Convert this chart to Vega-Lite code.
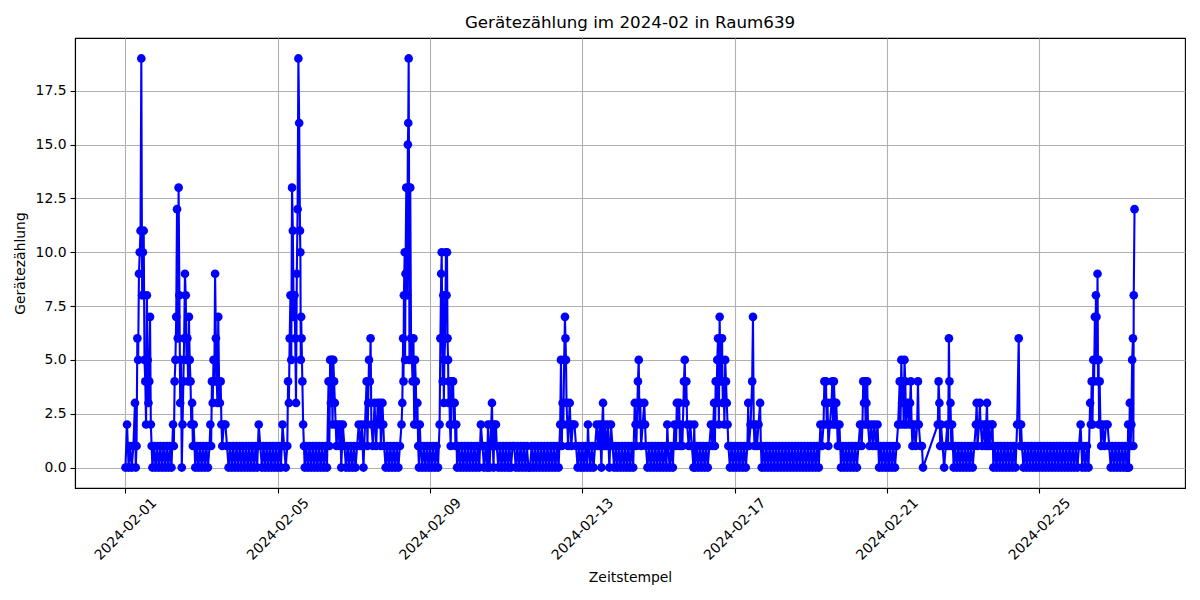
{
"$schema":"https://vega.github.io/schema/vega-lite/v6.json",
"width":1110,"height":450,
"autosize":{"type":"none"},
"padding":{"left":75,"top":38,"right":15,"bottom":112},
"background":"white",
"title":{"text":"Gerätezählung im 2024-02 in Raum639","font":"DejaVu Sans","fontSize":16.7,"fontWeight":"normal","color":"black","anchor":"middle","offset":6},
"config":{
 "view":{"stroke":"black","strokeWidth":1.1},
 "axis":{"labelFont":"DejaVu Sans","labelFontSize":13.9,"labelColor":"black","titleFont":"DejaVu Sans","titleFontSize":13.9,"titleFontWeight":"normal","titleColor":"black","domainColor":"black","domainWidth":1.1,"tickColor":"black","tickSize":5,"tickWidth":1.1,"gridColor":"#b0b0b0","gridWidth":1.1,"gridOpacity":1}
},
"data":{"values":[
{"t":"2024-02-01 00:00","v":0},{"t":"2024-02-01 01:00","v":2},{"t":"2024-02-01 02:00","v":0},{"t":"2024-02-01 03:00","v":1},{"t":"2024-02-01 04:00","v":0},{"t":"2024-02-01 05:00","v":1},{"t":"2024-02-01 06:00","v":3},{"t":"2024-02-01 06:30","v":0},{"t":"2024-02-01 07:00","v":1},{"t":"2024-02-01 07:30","v":6},{"t":"2024-02-01 08:00","v":5},{"t":"2024-02-01 08:30","v":9},{"t":"2024-02-01 09:00","v":10},{"t":"2024-02-01 09:30","v":11},{"t":"2024-02-01 10:00","v":19},{"t":"2024-02-01 10:30","v":8},{"t":"2024-02-01 11:00","v":10},{"t":"2024-02-01 11:30","v":11},{"t":"2024-02-01 12:00","v":5},{"t":"2024-02-01 12:30","v":4},{"t":"2024-02-01 13:00","v":2},{"t":"2024-02-01 13:30","v":8},{"t":"2024-02-01 14:00","v":5},{"t":"2024-02-01 14:30","v":3},{"t":"2024-02-01 15:00","v":4},{"t":"2024-02-01 15:30","v":7},{"t":"2024-02-01 16:00","v":2},{"t":"2024-02-01 16:30","v":1},{"t":"2024-02-01 17:00","v":0},{"t":"2024-02-01 18:00","v":1},{"t":"2024-02-01 19:00","v":0},{"t":"2024-02-01 20:00","v":1},{"t":"2024-02-01 21:00","v":0},{"t":"2024-02-01 22:00","v":1},{"t":"2024-02-01 23:00","v":0},
{"t":"2024-02-02 00:00","v":1},{"t":"2024-02-02 01:00","v":0},{"t":"2024-02-02 02:00","v":1},{"t":"2024-02-02 03:00","v":0},{"t":"2024-02-02 04:00","v":1},{"t":"2024-02-02 05:00","v":0},{"t":"2024-02-02 06:00","v":2},{"t":"2024-02-02 06:30","v":1},{"t":"2024-02-02 07:00","v":4},{"t":"2024-02-02 07:30","v":5},{"t":"2024-02-02 08:00","v":7},{"t":"2024-02-02 08:30","v":12},{"t":"2024-02-02 09:00","v":6},{"t":"2024-02-02 09:30","v":13},{"t":"2024-02-02 10:00","v":8},{"t":"2024-02-02 10:30","v":3},{"t":"2024-02-02 11:00","v":5},{"t":"2024-02-02 11:30","v":0},{"t":"2024-02-02 12:00","v":2},{"t":"2024-02-02 12:30","v":4},{"t":"2024-02-02 13:00","v":6},{"t":"2024-02-02 13:30","v":9},{"t":"2024-02-02 14:00","v":8},{"t":"2024-02-02 14:30","v":5},{"t":"2024-02-02 15:00","v":6},{"t":"2024-02-02 15:30","v":4},{"t":"2024-02-02 16:00","v":7},{"t":"2024-02-02 16:30","v":5},{"t":"2024-02-02 17:00","v":4},{"t":"2024-02-02 17:30","v":2},{"t":"2024-02-02 18:00","v":3},{"t":"2024-02-02 18:30","v":1},{"t":"2024-02-02 19:00","v":2},{"t":"2024-02-02 20:00","v":0},{"t":"2024-02-02 21:00","v":1},{"t":"2024-02-02 22:00","v":0},{"t":"2024-02-02 23:00","v":1},
{"t":"2024-02-03 00:00","v":0},{"t":"2024-02-03 01:00","v":1},{"t":"2024-02-03 02:00","v":0},{"t":"2024-02-03 03:00","v":1},{"t":"2024-02-03 04:00","v":0},{"t":"2024-02-03 05:00","v":1},{"t":"2024-02-03 05:30","v":2},{"t":"2024-02-03 06:00","v":1},{"t":"2024-02-03 06:30","v":4},{"t":"2024-02-03 07:00","v":3},{"t":"2024-02-03 07:30","v":5},{"t":"2024-02-03 08:00","v":4},{"t":"2024-02-03 08:30","v":9},{"t":"2024-02-03 09:00","v":6},{"t":"2024-02-03 09:30","v":4},{"t":"2024-02-03 10:00","v":3},{"t":"2024-02-03 10:30","v":7},{"t":"2024-02-03 11:00","v":4},{"t":"2024-02-03 11:30","v":3},{"t":"2024-02-03 12:00","v":4},{"t":"2024-02-03 12:30","v":2},{"t":"2024-02-03 13:00","v":1},{"t":"2024-02-03 14:00","v":2},{"t":"2024-02-03 15:00","v":2},{"t":"2024-02-03 16:00","v":1},{"t":"2024-02-03 17:00","v":0},{"t":"2024-02-03 18:00","v":1},{"t":"2024-02-03 19:00","v":0},{"t":"2024-02-03 20:00","v":1},{"t":"2024-02-03 21:00","v":0},{"t":"2024-02-03 22:00","v":1},{"t":"2024-02-03 23:00","v":0},
{"t":"2024-02-04 00:00","v":1},{"t":"2024-02-04 01:00","v":0},{"t":"2024-02-04 02:00","v":1},{"t":"2024-02-04 03:00","v":0},{"t":"2024-02-04 04:00","v":1},{"t":"2024-02-04 05:00","v":0},{"t":"2024-02-04 06:00","v":1},{"t":"2024-02-04 07:00","v":0},{"t":"2024-02-04 08:00","v":1},{"t":"2024-02-04 09:00","v":0},{"t":"2024-02-04 10:00","v":1},{"t":"2024-02-04 11:00","v":0},{"t":"2024-02-04 12:00","v":2},{"t":"2024-02-04 13:00","v":1},{"t":"2024-02-04 14:00","v":0},{"t":"2024-02-04 15:00","v":1},{"t":"2024-02-04 16:00","v":0},{"t":"2024-02-04 17:00","v":1},{"t":"2024-02-04 18:00","v":0},{"t":"2024-02-04 19:00","v":1},{"t":"2024-02-04 20:00","v":0},{"t":"2024-02-04 21:00","v":1},{"t":"2024-02-04 22:00","v":0},{"t":"2024-02-04 23:00","v":1},
{"t":"2024-02-05 00:00","v":0},{"t":"2024-02-05 01:00","v":1},{"t":"2024-02-05 02:00","v":0},{"t":"2024-02-05 03:00","v":2},{"t":"2024-02-05 04:00","v":1},{"t":"2024-02-05 05:00","v":0},{"t":"2024-02-05 06:00","v":1},{"t":"2024-02-05 06:30","v":4},{"t":"2024-02-05 07:00","v":3},{"t":"2024-02-05 07:30","v":6},{"t":"2024-02-05 08:00","v":8},{"t":"2024-02-05 08:30","v":5},{"t":"2024-02-05 09:00","v":13},{"t":"2024-02-05 09:30","v":11},{"t":"2024-02-05 10:00","v":7},{"t":"2024-02-05 10:30","v":8},{"t":"2024-02-05 11:00","v":6},{"t":"2024-02-05 11:30","v":3},{"t":"2024-02-05 12:00","v":9},{"t":"2024-02-05 12:30","v":12},{"t":"2024-02-05 13:00","v":19},{"t":"2024-02-05 13:30","v":16},{"t":"2024-02-05 14:00","v":11},{"t":"2024-02-05 14:15","v":10},{"t":"2024-02-05 14:30","v":5},{"t":"2024-02-05 14:45","v":7},{"t":"2024-02-05 15:00","v":6},{"t":"2024-02-05 15:30","v":4},{"t":"2024-02-05 16:00","v":2},{"t":"2024-02-05 16:30","v":1},{"t":"2024-02-05 17:00","v":0},{"t":"2024-02-05 18:00","v":1},{"t":"2024-02-05 19:00","v":0},{"t":"2024-02-05 20:00","v":1},{"t":"2024-02-05 21:00","v":0},{"t":"2024-02-05 22:00","v":1},{"t":"2024-02-05 23:00","v":0},
{"t":"2024-02-06 00:00","v":1},{"t":"2024-02-06 01:00","v":0},{"t":"2024-02-06 02:00","v":1},{"t":"2024-02-06 03:00","v":0},{"t":"2024-02-06 04:00","v":1},{"t":"2024-02-06 05:00","v":0},{"t":"2024-02-06 06:00","v":1},{"t":"2024-02-06 07:00","v":0},{"t":"2024-02-06 08:00","v":4},{"t":"2024-02-06 08:30","v":1},{"t":"2024-02-06 09:00","v":5},{"t":"2024-02-06 09:30","v":3},{"t":"2024-02-06 10:00","v":5},{"t":"2024-02-06 10:30","v":2},{"t":"2024-02-06 11:00","v":5},{"t":"2024-02-06 11:30","v":4},{"t":"2024-02-06 12:00","v":3},{"t":"2024-02-06 12:30","v":2},{"t":"2024-02-06 13:00","v":1},{"t":"2024-02-06 14:00","v":2},{"t":"2024-02-06 15:00","v":1},{"t":"2024-02-06 15:30","v":2},{"t":"2024-02-06 16:00","v":0},{"t":"2024-02-06 17:00","v":2},{"t":"2024-02-06 18:00","v":1},{"t":"2024-02-06 19:00","v":0},{"t":"2024-02-06 20:00","v":1},{"t":"2024-02-06 21:00","v":0},{"t":"2024-02-06 22:00","v":1},{"t":"2024-02-06 23:00","v":0},
{"t":"2024-02-07 00:00","v":1},{"t":"2024-02-07 01:00","v":0},{"t":"2024-02-07 02:00","v":1},{"t":"2024-02-07 03:00","v":2},{"t":"2024-02-07 04:00","v":1},{"t":"2024-02-07 05:00","v":2},{"t":"2024-02-07 06:00","v":0},{"t":"2024-02-07 07:00","v":2},{"t":"2024-02-07 08:00","v":4},{"t":"2024-02-07 08:30","v":1},{"t":"2024-02-07 09:00","v":3},{"t":"2024-02-07 09:30","v":5},{"t":"2024-02-07 10:00","v":4},{"t":"2024-02-07 10:30","v":6},{"t":"2024-02-07 11:00","v":2},{"t":"2024-02-07 12:00","v":1},{"t":"2024-02-07 13:00","v":3},{"t":"2024-02-07 14:00","v":1},{"t":"2024-02-07 15:00","v":3},{"t":"2024-02-07 16:00","v":2},{"t":"2024-02-07 16:30","v":3},{"t":"2024-02-07 17:00","v":1},{"t":"2024-02-07 18:00","v":3},{"t":"2024-02-07 18:30","v":2},{"t":"2024-02-07 19:00","v":1},{"t":"2024-02-07 20:00","v":0},{"t":"2024-02-07 21:00","v":1},{"t":"2024-02-07 22:00","v":0},{"t":"2024-02-07 23:00","v":1},
{"t":"2024-02-08 00:00","v":0},{"t":"2024-02-08 01:00","v":1},{"t":"2024-02-08 02:00","v":0},{"t":"2024-02-08 03:00","v":1},{"t":"2024-02-08 04:00","v":0},{"t":"2024-02-08 05:00","v":1},{"t":"2024-02-08 06:00","v":2},{"t":"2024-02-08 06:30","v":3},{"t":"2024-02-08 07:00","v":6},{"t":"2024-02-08 07:15","v":4},{"t":"2024-02-08 07:30","v":8},{"t":"2024-02-08 08:00","v":10},{"t":"2024-02-08 08:15","v":5},{"t":"2024-02-08 08:30","v":9},{"t":"2024-02-08 09:00","v":13},{"t":"2024-02-08 09:30","v":8},{"t":"2024-02-08 10:00","v":15},{"t":"2024-02-08 10:15","v":16},{"t":"2024-02-08 10:30","v":19},{"t":"2024-02-08 10:45","v":13},{"t":"2024-02-08 11:00","v":5},{"t":"2024-02-08 11:30","v":13},{"t":"2024-02-08 12:00","v":6},{"t":"2024-02-08 12:30","v":5},{"t":"2024-02-08 13:00","v":4},{"t":"2024-02-08 13:30","v":6},{"t":"2024-02-08 14:00","v":2},{"t":"2024-02-08 14:30","v":5},{"t":"2024-02-08 15:00","v":4},{"t":"2024-02-08 15:30","v":2},{"t":"2024-02-08 16:00","v":3},{"t":"2024-02-08 16:30","v":1},{"t":"2024-02-08 17:00","v":0},{"t":"2024-02-08 17:30","v":2},{"t":"2024-02-08 18:00","v":1},{"t":"2024-02-08 19:00","v":0},{"t":"2024-02-08 20:00","v":1},{"t":"2024-02-08 21:00","v":0},{"t":"2024-02-08 22:00","v":1},{"t":"2024-02-08 23:00","v":0},
{"t":"2024-02-09 00:00","v":1},{"t":"2024-02-09 01:00","v":0},{"t":"2024-02-09 02:00","v":1},{"t":"2024-02-09 03:00","v":0},{"t":"2024-02-09 04:00","v":1},{"t":"2024-02-09 05:00","v":0},{"t":"2024-02-09 06:00","v":2},{"t":"2024-02-09 06:30","v":6},{"t":"2024-02-09 07:00","v":9},{"t":"2024-02-09 07:20","v":10},{"t":"2024-02-09 07:40","v":6},{"t":"2024-02-09 08:00","v":4},{"t":"2024-02-09 08:20","v":8},{"t":"2024-02-09 08:40","v":3},{"t":"2024-02-09 09:00","v":5},{"t":"2024-02-09 09:30","v":6},{"t":"2024-02-09 10:00","v":10},{"t":"2024-02-09 10:20","v":8},{"t":"2024-02-09 10:40","v":10},{"t":"2024-02-09 11:00","v":6},{"t":"2024-02-09 11:20","v":5},{"t":"2024-02-09 11:40","v":3},{"t":"2024-02-09 12:00","v":4},{"t":"2024-02-09 12:30","v":2},{"t":"2024-02-09 13:00","v":1},{"t":"2024-02-09 13:30","v":4},{"t":"2024-02-09 14:00","v":3},{"t":"2024-02-09 14:30","v":4},{"t":"2024-02-09 15:00","v":2},{"t":"2024-02-09 15:30","v":3},{"t":"2024-02-09 16:00","v":1},{"t":"2024-02-09 16:30","v":2},{"t":"2024-02-09 17:00","v":0},{"t":"2024-02-09 18:00","v":1},{"t":"2024-02-09 19:00","v":0},{"t":"2024-02-09 20:00","v":1},{"t":"2024-02-09 21:00","v":0},{"t":"2024-02-09 22:00","v":1},{"t":"2024-02-09 23:00","v":0},
{"t":"2024-02-10 00:00","v":1},{"t":"2024-02-10 01:00","v":0},{"t":"2024-02-10 02:00","v":1},{"t":"2024-02-10 03:00","v":0},{"t":"2024-02-10 04:00","v":1},{"t":"2024-02-10 05:00","v":0},{"t":"2024-02-10 06:00","v":1},{"t":"2024-02-10 07:00","v":0},{"t":"2024-02-10 08:00","v":2},{"t":"2024-02-10 09:00","v":1},{"t":"2024-02-10 10:00","v":0},{"t":"2024-02-10 11:00","v":1},{"t":"2024-02-10 12:00","v":0},{"t":"2024-02-10 12:30","v":2},{"t":"2024-02-10 13:00","v":1},{"t":"2024-02-10 13:30","v":0},{"t":"2024-02-10 14:00","v":1},{"t":"2024-02-10 14:30","v":2},{"t":"2024-02-10 15:00","v":3},{"t":"2024-02-10 15:30","v":1},{"t":"2024-02-10 16:00","v":0},{"t":"2024-02-10 16:30","v":2},{"t":"2024-02-10 17:00","v":1},{"t":"2024-02-10 17:30","v":2},{"t":"2024-02-10 18:00","v":1},{"t":"2024-02-10 19:00","v":0},{"t":"2024-02-10 20:00","v":1},{"t":"2024-02-10 21:00","v":0},{"t":"2024-02-10 22:00","v":1},{"t":"2024-02-10 23:00","v":0},
{"t":"2024-02-11 00:00","v":1},{"t":"2024-02-11 01:00","v":0},{"t":"2024-02-11 02:00","v":1},{"t":"2024-02-11 03:00","v":0},{"t":"2024-02-11 04:00","v":1},{"t":"2024-02-11 05:00","v":1},{"t":"2024-02-11 06:00","v":0},{"t":"2024-02-11 07:00","v":1},{"t":"2024-02-11 08:00","v":0},{"t":"2024-02-11 09:00","v":1},{"t":"2024-02-11 10:00","v":0},{"t":"2024-02-11 11:00","v":1},{"t":"2024-02-11 12:00","v":0},{"t":"2024-02-11 13:00","v":1},{"t":"2024-02-11 14:00","v":0},{"t":"2024-02-11 15:00","v":0},{"t":"2024-02-11 16:00","v":1},{"t":"2024-02-11 17:00","v":0},{"t":"2024-02-11 18:00","v":1},{"t":"2024-02-11 19:00","v":0},{"t":"2024-02-11 20:00","v":1},{"t":"2024-02-11 21:00","v":0},{"t":"2024-02-11 22:00","v":1},{"t":"2024-02-11 23:00","v":0},
{"t":"2024-02-12 00:00","v":1},{"t":"2024-02-12 01:00","v":0},{"t":"2024-02-12 02:00","v":1},{"t":"2024-02-12 03:00","v":0},{"t":"2024-02-12 04:00","v":1},{"t":"2024-02-12 05:00","v":0},{"t":"2024-02-12 06:00","v":1},{"t":"2024-02-12 07:00","v":0},{"t":"2024-02-12 08:00","v":1},{"t":"2024-02-12 09:00","v":0},{"t":"2024-02-12 10:00","v":2},{"t":"2024-02-12 10:30","v":5},{"t":"2024-02-12 11:00","v":1},{"t":"2024-02-12 11:30","v":3},{"t":"2024-02-12 12:00","v":2},{"t":"2024-02-12 12:30","v":5},{"t":"2024-02-12 13:00","v":7},{"t":"2024-02-12 13:20","v":6},{"t":"2024-02-12 13:40","v":5},{"t":"2024-02-12 14:00","v":3},{"t":"2024-02-12 14:30","v":2},{"t":"2024-02-12 15:00","v":1},{"t":"2024-02-12 16:00","v":3},{"t":"2024-02-12 16:30","v":2},{"t":"2024-02-12 17:00","v":1},{"t":"2024-02-12 18:00","v":2},{"t":"2024-02-12 19:00","v":2},{"t":"2024-02-12 20:00","v":1},{"t":"2024-02-12 21:00","v":0},{"t":"2024-02-12 22:00","v":1},{"t":"2024-02-12 23:00","v":0},
{"t":"2024-02-13 00:00","v":1},{"t":"2024-02-13 01:00","v":0},{"t":"2024-02-13 02:00","v":1},{"t":"2024-02-13 03:00","v":0},{"t":"2024-02-13 03:30","v":2},{"t":"2024-02-13 04:00","v":1},{"t":"2024-02-13 05:00","v":0},{"t":"2024-02-13 06:00","v":1},{"t":"2024-02-13 07:00","v":0},{"t":"2024-02-13 08:00","v":1},{"t":"2024-02-13 09:00","v":2},{"t":"2024-02-13 10:00","v":1},{"t":"2024-02-13 11:00","v":2},{"t":"2024-02-13 12:00","v":0},{"t":"2024-02-13 12:30","v":2},{"t":"2024-02-13 13:00","v":3},{"t":"2024-02-13 13:30","v":1},{"t":"2024-02-13 14:00","v":2},{"t":"2024-02-13 15:00","v":1},{"t":"2024-02-13 16:00","v":2},{"t":"2024-02-13 17:00","v":0},{"t":"2024-02-13 18:00","v":2},{"t":"2024-02-13 19:00","v":1},{"t":"2024-02-13 20:00","v":0},{"t":"2024-02-13 21:00","v":1},{"t":"2024-02-13 22:00","v":0},{"t":"2024-02-13 23:00","v":1},
{"t":"2024-02-14 00:00","v":0},{"t":"2024-02-14 01:00","v":1},{"t":"2024-02-14 02:00","v":0},{"t":"2024-02-14 03:00","v":1},{"t":"2024-02-14 04:00","v":0},{"t":"2024-02-14 05:00","v":1},{"t":"2024-02-14 06:00","v":0},{"t":"2024-02-14 07:00","v":1},{"t":"2024-02-14 08:00","v":0},{"t":"2024-02-14 09:00","v":3},{"t":"2024-02-14 09:30","v":2},{"t":"2024-02-14 10:00","v":1},{"t":"2024-02-14 11:00","v":4},{"t":"2024-02-14 11:30","v":5},{"t":"2024-02-14 12:00","v":2},{"t":"2024-02-14 12:30","v":3},{"t":"2024-02-14 13:00","v":1},{"t":"2024-02-14 14:00","v":2},{"t":"2024-02-14 15:00","v":3},{"t":"2024-02-14 15:30","v":2},{"t":"2024-02-14 16:00","v":1},{"t":"2024-02-14 17:00","v":0},{"t":"2024-02-14 18:00","v":1},{"t":"2024-02-14 19:00","v":0},{"t":"2024-02-14 20:00","v":1},{"t":"2024-02-14 21:00","v":0},{"t":"2024-02-14 22:00","v":1},{"t":"2024-02-14 23:00","v":0},
{"t":"2024-02-15 00:00","v":1},{"t":"2024-02-15 01:00","v":0},{"t":"2024-02-15 02:00","v":1},{"t":"2024-02-15 03:00","v":0},{"t":"2024-02-15 04:00","v":1},{"t":"2024-02-15 05:00","v":0},{"t":"2024-02-15 05:30","v":2},{"t":"2024-02-15 06:00","v":1},{"t":"2024-02-15 07:00","v":0},{"t":"2024-02-15 08:00","v":1},{"t":"2024-02-15 09:00","v":0},{"t":"2024-02-15 10:00","v":2},{"t":"2024-02-15 11:00","v":1},{"t":"2024-02-15 11:30","v":3},{"t":"2024-02-15 12:00","v":2},{"t":"2024-02-15 13:00","v":3},{"t":"2024-02-15 13:30","v":1},{"t":"2024-02-15 14:00","v":2},{"t":"2024-02-15 15:00","v":1},{"t":"2024-02-15 16:00","v":4},{"t":"2024-02-15 16:30","v":5},{"t":"2024-02-15 17:00","v":3},{"t":"2024-02-15 17:30","v":4},{"t":"2024-02-15 18:00","v":2},{"t":"2024-02-15 19:00","v":1},{"t":"2024-02-15 20:00","v":2},{"t":"2024-02-15 21:00","v":1},{"t":"2024-02-15 22:00","v":0},{"t":"2024-02-15 22:30","v":2},{"t":"2024-02-15 23:00","v":0},
{"t":"2024-02-16 00:00","v":1},{"t":"2024-02-16 01:00","v":0},{"t":"2024-02-16 02:00","v":1},{"t":"2024-02-16 03:00","v":0},{"t":"2024-02-16 04:00","v":1},{"t":"2024-02-16 05:00","v":0},{"t":"2024-02-16 06:00","v":1},{"t":"2024-02-16 07:00","v":0},{"t":"2024-02-16 08:00","v":1},{"t":"2024-02-16 09:00","v":2},{"t":"2024-02-16 10:00","v":1},{"t":"2024-02-16 10:30","v":2},{"t":"2024-02-16 11:00","v":3},{"t":"2024-02-16 11:30","v":1},{"t":"2024-02-16 12:00","v":4},{"t":"2024-02-16 12:30","v":3},{"t":"2024-02-16 13:00","v":5},{"t":"2024-02-16 13:30","v":6},{"t":"2024-02-16 14:00","v":2},{"t":"2024-02-16 14:30","v":7},{"t":"2024-02-16 15:00","v":4},{"t":"2024-02-16 15:30","v":5},{"t":"2024-02-16 16:00","v":6},{"t":"2024-02-16 16:30","v":3},{"t":"2024-02-16 17:00","v":4},{"t":"2024-02-16 17:30","v":2},{"t":"2024-02-16 18:00","v":5},{"t":"2024-02-16 18:30","v":4},{"t":"2024-02-16 19:00","v":3},{"t":"2024-02-16 19:30","v":2},{"t":"2024-02-16 20:00","v":1},{"t":"2024-02-16 21:00","v":0},{"t":"2024-02-16 22:00","v":1},{"t":"2024-02-16 23:00","v":0},
{"t":"2024-02-17 00:00","v":1},{"t":"2024-02-17 01:00","v":0},{"t":"2024-02-17 02:00","v":1},{"t":"2024-02-17 03:00","v":0},{"t":"2024-02-17 04:00","v":1},{"t":"2024-02-17 05:00","v":0},{"t":"2024-02-17 06:00","v":1},{"t":"2024-02-17 07:00","v":0},{"t":"2024-02-17 08:00","v":1},{"t":"2024-02-17 08:30","v":3},{"t":"2024-02-17 09:00","v":1},{"t":"2024-02-17 10:00","v":2},{"t":"2024-02-17 11:00","v":4},{"t":"2024-02-17 11:30","v":7},{"t":"2024-02-17 12:00","v":2},{"t":"2024-02-17 12:30","v":1},{"t":"2024-02-17 13:00","v":2},{"t":"2024-02-17 14:00","v":1},{"t":"2024-02-17 15:00","v":2},{"t":"2024-02-17 16:00","v":3},{"t":"2024-02-17 16:30","v":1},{"t":"2024-02-17 17:00","v":0},{"t":"2024-02-17 18:00","v":1},{"t":"2024-02-17 19:00","v":0},{"t":"2024-02-17 20:00","v":1},{"t":"2024-02-17 21:00","v":0},{"t":"2024-02-17 22:00","v":1},{"t":"2024-02-17 23:00","v":0},
{"t":"2024-02-18 00:00","v":1},{"t":"2024-02-18 01:00","v":0},{"t":"2024-02-18 02:00","v":1},{"t":"2024-02-18 03:00","v":0},{"t":"2024-02-18 04:00","v":1},{"t":"2024-02-18 05:00","v":0},{"t":"2024-02-18 06:00","v":1},{"t":"2024-02-18 07:00","v":0},{"t":"2024-02-18 08:00","v":1},{"t":"2024-02-18 09:00","v":0},{"t":"2024-02-18 10:00","v":1},{"t":"2024-02-18 11:00","v":0},{"t":"2024-02-18 12:00","v":1},{"t":"2024-02-18 13:00","v":0},{"t":"2024-02-18 14:00","v":1},{"t":"2024-02-18 15:00","v":0},{"t":"2024-02-18 16:00","v":1},{"t":"2024-02-18 17:00","v":0},{"t":"2024-02-18 18:00","v":1},{"t":"2024-02-18 19:00","v":0},{"t":"2024-02-18 20:00","v":1},{"t":"2024-02-18 21:00","v":0},{"t":"2024-02-18 22:00","v":1},{"t":"2024-02-18 23:00","v":0},
{"t":"2024-02-19 00:00","v":1},{"t":"2024-02-19 01:00","v":0},{"t":"2024-02-19 02:00","v":1},{"t":"2024-02-19 03:00","v":0},{"t":"2024-02-19 04:00","v":1},{"t":"2024-02-19 05:00","v":0},{"t":"2024-02-19 06:00","v":2},{"t":"2024-02-19 07:00","v":1},{"t":"2024-02-19 08:00","v":2},{"t":"2024-02-19 08:30","v":4},{"t":"2024-02-19 09:00","v":3},{"t":"2024-02-19 09:30","v":4},{"t":"2024-02-19 10:00","v":2},{"t":"2024-02-19 10:30","v":3},{"t":"2024-02-19 11:00","v":1},{"t":"2024-02-19 12:00","v":2},{"t":"2024-02-19 13:00","v":3},{"t":"2024-02-19 13:30","v":4},{"t":"2024-02-19 14:00","v":2},{"t":"2024-02-19 14:30","v":4},{"t":"2024-02-19 15:00","v":3},{"t":"2024-02-19 15:30","v":2},{"t":"2024-02-19 16:00","v":3},{"t":"2024-02-19 16:30","v":2},{"t":"2024-02-19 17:00","v":1},{"t":"2024-02-19 18:00","v":2},{"t":"2024-02-19 18:30","v":1},{"t":"2024-02-19 19:00","v":0},{"t":"2024-02-19 20:00","v":1},{"t":"2024-02-19 21:00","v":0},{"t":"2024-02-19 22:00","v":1},{"t":"2024-02-19 23:00","v":0},
{"t":"2024-02-20 00:00","v":1},{"t":"2024-02-20 01:00","v":0},{"t":"2024-02-20 02:00","v":1},{"t":"2024-02-20 03:00","v":0},{"t":"2024-02-20 04:00","v":1},{"t":"2024-02-20 05:00","v":0},{"t":"2024-02-20 06:00","v":1},{"t":"2024-02-20 07:00","v":2},{"t":"2024-02-20 08:00","v":1},{"t":"2024-02-20 08:30","v":2},{"t":"2024-02-20 09:00","v":4},{"t":"2024-02-20 09:30","v":3},{"t":"2024-02-20 10:00","v":4},{"t":"2024-02-20 10:30","v":2},{"t":"2024-02-20 11:00","v":3},{"t":"2024-02-20 11:30","v":4},{"t":"2024-02-20 12:00","v":2},{"t":"2024-02-20 13:00","v":1},{"t":"2024-02-20 14:00","v":2},{"t":"2024-02-20 15:00","v":1},{"t":"2024-02-20 16:00","v":2},{"t":"2024-02-20 17:00","v":1},{"t":"2024-02-20 18:00","v":2},{"t":"2024-02-20 19:00","v":0},{"t":"2024-02-20 20:00","v":1},{"t":"2024-02-20 21:00","v":0},{"t":"2024-02-20 22:00","v":1},{"t":"2024-02-20 23:00","v":0},
{"t":"2024-02-21 00:00","v":1},{"t":"2024-02-21 01:00","v":0},{"t":"2024-02-21 02:00","v":1},{"t":"2024-02-21 03:00","v":0},{"t":"2024-02-21 04:00","v":1},{"t":"2024-02-21 05:00","v":0},{"t":"2024-02-21 06:00","v":1},{"t":"2024-02-21 07:00","v":2},{"t":"2024-02-21 08:00","v":4},{"t":"2024-02-21 08:30","v":2},{"t":"2024-02-21 09:00","v":5},{"t":"2024-02-21 09:30","v":3},{"t":"2024-02-21 10:00","v":4},{"t":"2024-02-21 10:30","v":2},{"t":"2024-02-21 11:00","v":5},{"t":"2024-02-21 11:30","v":4},{"t":"2024-02-21 12:00","v":2},{"t":"2024-02-21 13:00","v":3},{"t":"2024-02-21 14:00","v":2},{"t":"2024-02-21 14:30","v":3},{"t":"2024-02-21 15:00","v":4},{"t":"2024-02-21 15:30","v":2},{"t":"2024-02-21 16:00","v":1},{"t":"2024-02-21 17:00","v":2},{"t":"2024-02-21 18:00","v":1},{"t":"2024-02-21 19:00","v":2},{"t":"2024-02-21 19:30","v":4},{"t":"2024-02-21 20:00","v":2},{"t":"2024-02-21 21:00","v":1},{"t":"2024-02-21 22:00","v":1},{"t":"2024-02-21 22:40","v":0},
{"t":"2024-02-22 08:00","v":2},{"t":"2024-02-22 08:30","v":4},{"t":"2024-02-22 09:00","v":3},{"t":"2024-02-22 09:30","v":1},{"t":"2024-02-22 10:00","v":2},{"t":"2024-02-22 11:00","v":1},{"t":"2024-02-22 12:00","v":0},{"t":"2024-02-22 13:00","v":1},{"t":"2024-02-22 14:00","v":2},{"t":"2024-02-22 14:30","v":1},{"t":"2024-02-22 15:00","v":6},{"t":"2024-02-22 15:20","v":4},{"t":"2024-02-22 15:40","v":2},{"t":"2024-02-22 16:00","v":3},{"t":"2024-02-22 16:30","v":1},{"t":"2024-02-22 17:00","v":2},{"t":"2024-02-22 18:00","v":0},{"t":"2024-02-22 19:00","v":1},{"t":"2024-02-22 20:00","v":0},{"t":"2024-02-22 21:00","v":1},{"t":"2024-02-22 22:00","v":0},{"t":"2024-02-22 23:00","v":1},
{"t":"2024-02-23 00:00","v":0},{"t":"2024-02-23 01:00","v":1},{"t":"2024-02-23 02:00","v":0},{"t":"2024-02-23 03:00","v":1},{"t":"2024-02-23 04:00","v":0},{"t":"2024-02-23 05:00","v":1},{"t":"2024-02-23 06:00","v":0},{"t":"2024-02-23 07:00","v":1},{"t":"2024-02-23 08:00","v":2},{"t":"2024-02-23 08:30","v":3},{"t":"2024-02-23 09:00","v":1},{"t":"2024-02-23 10:00","v":2},{"t":"2024-02-23 10:30","v":3},{"t":"2024-02-23 11:00","v":2},{"t":"2024-02-23 12:00","v":1},{"t":"2024-02-23 13:00","v":2},{"t":"2024-02-23 14:00","v":1},{"t":"2024-02-23 14:30","v":2},{"t":"2024-02-23 15:00","v":3},{"t":"2024-02-23 15:30","v":1},{"t":"2024-02-23 16:00","v":2},{"t":"2024-02-23 17:00","v":1},{"t":"2024-02-23 18:00","v":2},{"t":"2024-02-23 18:30","v":2},{"t":"2024-02-23 19:00","v":0},{"t":"2024-02-23 20:00","v":1},{"t":"2024-02-23 21:00","v":0},{"t":"2024-02-23 22:00","v":1},{"t":"2024-02-23 23:00","v":0},
{"t":"2024-02-24 00:00","v":1},{"t":"2024-02-24 01:00","v":0},{"t":"2024-02-24 02:00","v":1},{"t":"2024-02-24 03:00","v":0},{"t":"2024-02-24 04:00","v":1},{"t":"2024-02-24 05:00","v":0},{"t":"2024-02-24 06:00","v":1},{"t":"2024-02-24 07:00","v":0},{"t":"2024-02-24 08:00","v":1},{"t":"2024-02-24 09:00","v":0},{"t":"2024-02-24 10:00","v":2},{"t":"2024-02-24 11:00","v":6},{"t":"2024-02-24 11:30","v":2},{"t":"2024-02-24 12:00","v":1},{"t":"2024-02-24 12:30","v":2},{"t":"2024-02-24 13:00","v":1},{"t":"2024-02-24 14:00","v":0},{"t":"2024-02-24 15:00","v":1},{"t":"2024-02-24 16:00","v":0},{"t":"2024-02-24 17:00","v":1},{"t":"2024-02-24 18:00","v":0},{"t":"2024-02-24 19:00","v":1},{"t":"2024-02-24 20:00","v":0},{"t":"2024-02-24 21:00","v":1},{"t":"2024-02-24 22:00","v":0},{"t":"2024-02-24 23:00","v":1},
{"t":"2024-02-25 00:00","v":0},{"t":"2024-02-25 01:00","v":1},{"t":"2024-02-25 02:00","v":0},{"t":"2024-02-25 03:00","v":1},{"t":"2024-02-25 04:00","v":0},{"t":"2024-02-25 05:00","v":1},{"t":"2024-02-25 06:00","v":0},{"t":"2024-02-25 07:00","v":1},{"t":"2024-02-25 08:00","v":0},{"t":"2024-02-25 09:00","v":1},{"t":"2024-02-25 10:00","v":0},{"t":"2024-02-25 11:00","v":1},{"t":"2024-02-25 12:00","v":0},{"t":"2024-02-25 13:00","v":1},{"t":"2024-02-25 14:00","v":0},{"t":"2024-02-25 15:00","v":1},{"t":"2024-02-25 16:00","v":0},{"t":"2024-02-25 17:00","v":1},{"t":"2024-02-25 18:00","v":0},{"t":"2024-02-25 19:00","v":1},{"t":"2024-02-25 20:00","v":0},{"t":"2024-02-25 21:00","v":1},{"t":"2024-02-25 22:00","v":0},{"t":"2024-02-25 23:00","v":1},
{"t":"2024-02-26 00:00","v":0},{"t":"2024-02-26 01:00","v":1},{"t":"2024-02-26 02:00","v":2},{"t":"2024-02-26 03:00","v":0},{"t":"2024-02-26 04:00","v":1},{"t":"2024-02-26 05:00","v":0},{"t":"2024-02-26 06:00","v":1},{"t":"2024-02-26 07:00","v":0},{"t":"2024-02-26 08:00","v":3},{"t":"2024-02-26 08:30","v":2},{"t":"2024-02-26 09:00","v":4},{"t":"2024-02-26 09:30","v":2},{"t":"2024-02-26 10:00","v":5},{"t":"2024-02-26 10:30","v":4},{"t":"2024-02-26 11:00","v":7},{"t":"2024-02-26 11:20","v":5},{"t":"2024-02-26 11:40","v":8},{"t":"2024-02-26 12:00","v":7},{"t":"2024-02-26 12:20","v":5},{"t":"2024-02-26 12:40","v":9},{"t":"2024-02-26 13:00","v":4},{"t":"2024-02-26 13:20","v":5},{"t":"2024-02-26 13:40","v":2},{"t":"2024-02-26 14:00","v":4},{"t":"2024-02-26 14:30","v":2},{"t":"2024-02-26 15:00","v":1},{"t":"2024-02-26 16:00","v":2},{"t":"2024-02-26 17:00","v":1},{"t":"2024-02-26 18:00","v":2},{"t":"2024-02-26 19:00","v":2},{"t":"2024-02-26 20:00","v":1},{"t":"2024-02-26 21:00","v":0},{"t":"2024-02-26 22:00","v":1},{"t":"2024-02-26 23:00","v":0},
{"t":"2024-02-27 00:00","v":1},{"t":"2024-02-27 01:00","v":0},{"t":"2024-02-27 02:00","v":1},{"t":"2024-02-27 03:00","v":0},{"t":"2024-02-27 04:00","v":1},{"t":"2024-02-27 05:00","v":0},{"t":"2024-02-27 06:00","v":1},{"t":"2024-02-27 07:00","v":0},{"t":"2024-02-27 07:30","v":0},{"t":"2024-02-27 08:00","v":2},{"t":"2024-02-27 08:30","v":0},{"t":"2024-02-27 09:00","v":3},{"t":"2024-02-27 09:30","v":1},{"t":"2024-02-27 10:00","v":2},{"t":"2024-02-27 10:30","v":5},{"t":"2024-02-27 11:00","v":6},{"t":"2024-02-27 11:15","v":1},{"t":"2024-02-27 11:30","v":8},{"t":"2024-02-27 12:00","v":12}
]},
"mark":{"type":"line","color":"#0000ff","strokeWidth":2.1,"point":{"filled":true,"size":75,"color":"#0000ff","opacity":1}},
"encoding":{
 "x":{"field":"t","type":"temporal","title":"Zeitstempel",
  "scale":{"domain":[{"year":2024,"month":1,"date":30,"hours":16,"minutes":12},{"year":2024,"month":2,"date":28,"hours":19,"minutes":48}]},
  "axis":{"values":[{"year":2024,"month":2,"date":1},{"year":2024,"month":2,"date":5},{"year":2024,"month":2,"date":9},{"year":2024,"month":2,"date":13},{"year":2024,"month":2,"date":17},{"year":2024,"month":2,"date":21},{"year":2024,"month":2,"date":25}],
   "format":"%Y-%m-%d","labelAngle":-45,"labelAlign":"center","labelBaseline":"middle","labelPadding":36,"labelOverlap":false,"labelFlush":false,"titlePadding":8,"grid":true}},
 "y":{"field":"v","type":"quantitative","title":"Gerätezählung",
  "scale":{"domain":[-0.95,19.95],"nice":false,"zero":false},
  "axis":{"values":[0,2.5,5,7.5,10,12.5,15,17.5],"format":".1f","labelPadding":4,"titlePadding":8,"grid":true}}
}
}
